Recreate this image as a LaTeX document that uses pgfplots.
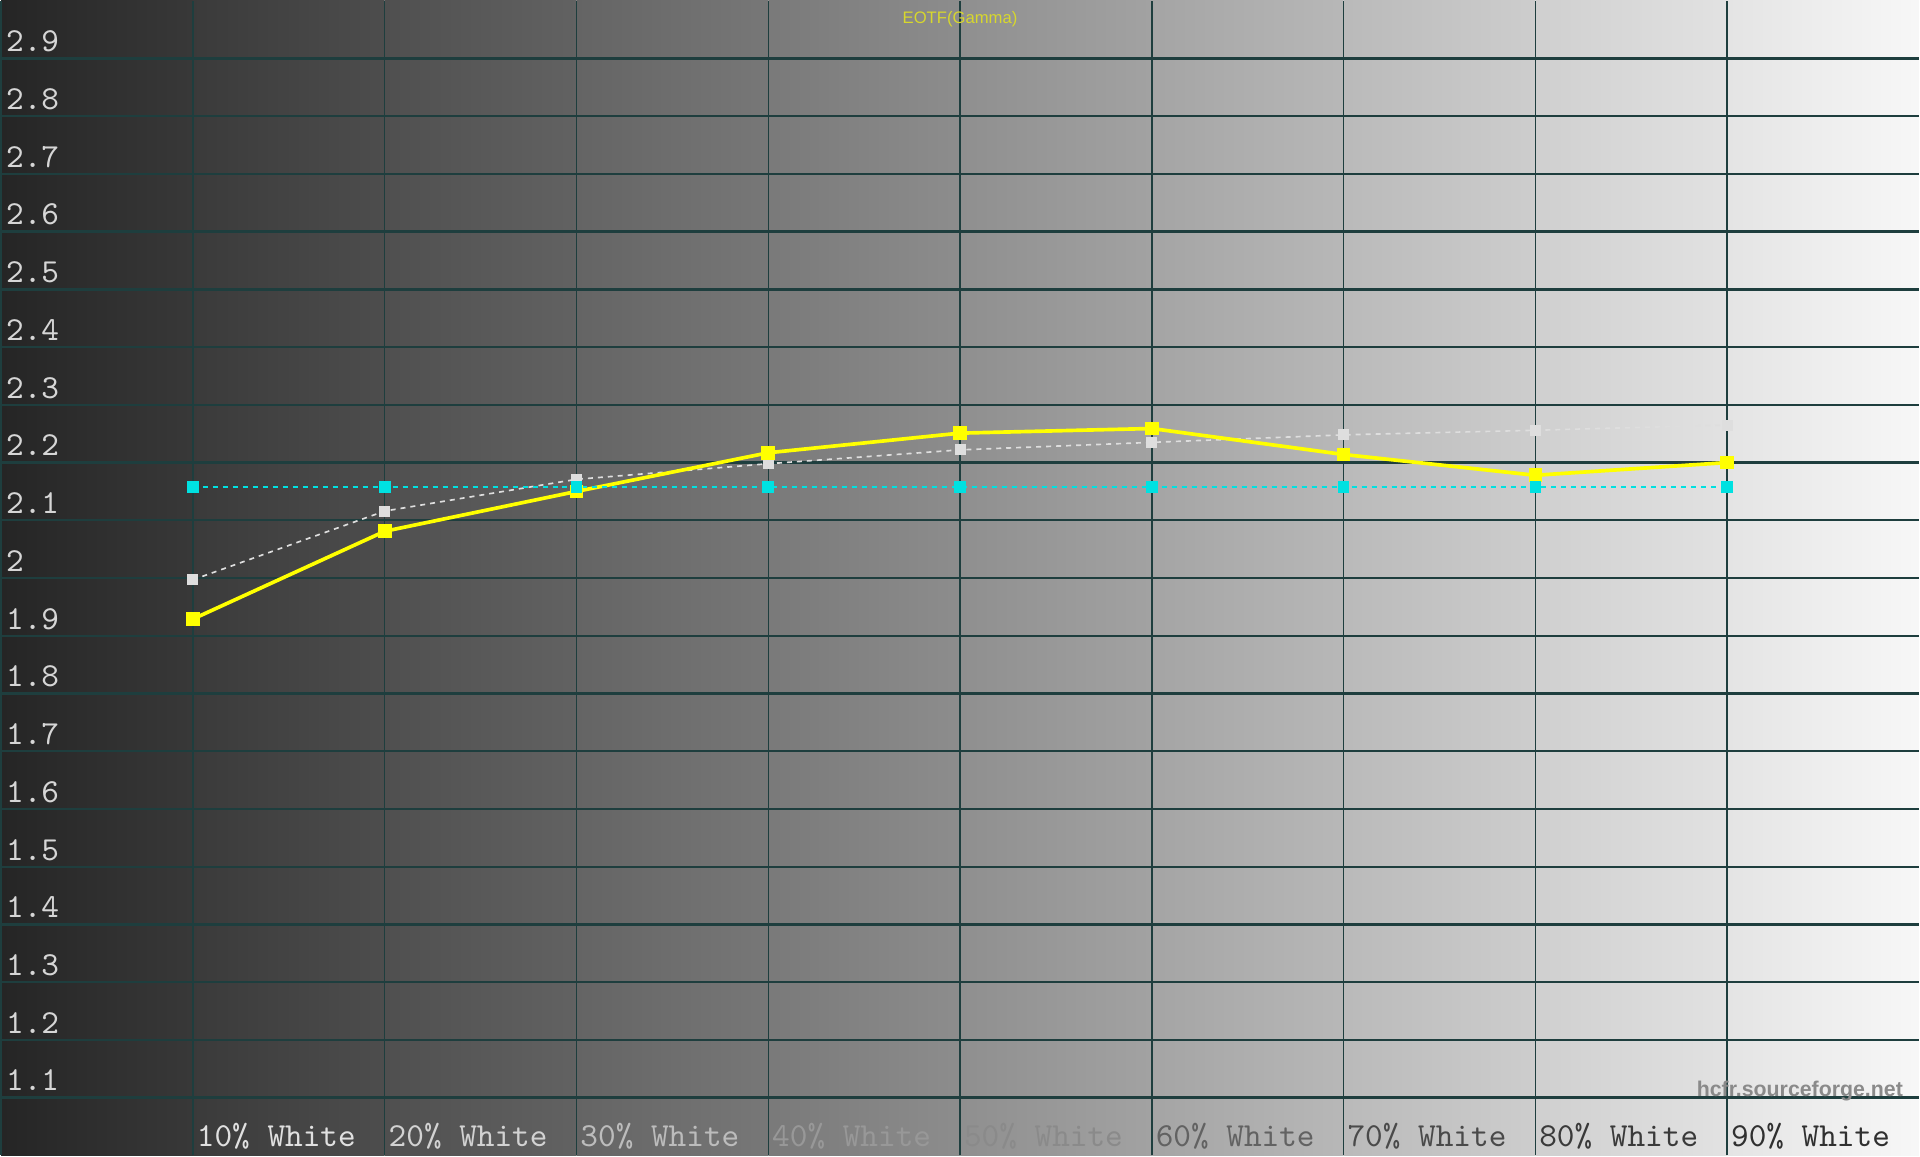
\documentclass[border=0pt]{standalone}
\usepackage{fontspec}
\setmainfont{Liberation Sans}
\usepackage{pgfplots}
\pgfplotsset{compat=1.18}

\definecolor{gridc}{RGB}{30,62,62}
\definecolor{meas}{RGB}{255,255,0}
\definecolor{refg}{RGB}{222,222,222}
\definecolor{targ}{RGB}{0,225,225}
\definecolor{titlec}{RGB}{215,215,45}

\begin{document}
\begin{tikzpicture}
  \begin{axis}[%
    ,set layers
    ,scale only axis
    ,width=576pt, height=346.8pt
    ,xmin=0, xmax=100
    ,ymin=1, ymax=3
    ,axis line style={draw=none}
    ,major tick length=0pt
    ,xtick={10,20,...,90}
    ,extra x ticks={0}, extra x tick labels={}
    ,xticklabels={%
      {\textcolor[RGB]{224,224,224}{10\% White}},
      {\textcolor[RGB]{210,210,210}{20\% White}},
      {\textcolor[RGB]{188,188,188}{30\% White}},
      {\textcolor[RGB]{152,152,152}{40\% White}},
      {\textcolor[RGB]{138,138,138}{50\% White}},
      {\textcolor[RGB]{98,98,98}{60\% White}},
      {\textcolor[RGB]{74,74,74}{70\% White}},
      {\textcolor[RGB]{58,58,58}{80\% White}},
      {\textcolor[RGB]{48,48,48}{90\% White}}}
    ,ytick={1.1,1.2,1.3,1.4,1.5,1.6,1.7,1.8,1.9,2,2.1,2.2,2.3,2.4,2.5,2.6,2.7,2.8,2.9}
    ,xmajorgrids, ymajorgrids
    ,x grid style={color=gridc, line width=0.45pt}
    ,y grid style={color=gridc, line width=0.7pt}
    ,/pgf/number format/assume math mode=true
    ,xticklabel style={font=\ttfamily\fontsize{10.1}{11}\selectfont, anchor=base west, inner sep=0pt, xshift=1pt, yshift=2.7pt}
    ,yticklabel style={font=\ttfamily\fontsize{10.1}{11}\selectfont, color={rgb,255:red,214;green,214;blue,214}, anchor=base west, inner sep=0pt, xshift=1.3pt, yshift=2pt}
    ]
    \begin{pgfonlayer}{axis background}
      \shade[left color=white!14.5!black, right color=white!22.0!black] (axis cs:0,1) rectangle (axis cs:10,3);
      \shade[left color=white!22.8!black, right color=white!30.2!black] (axis cs:10,1) rectangle (axis cs:20,3);
      \shade[left color=white!31.0!black, right color=white!38.4!black] (axis cs:20,1) rectangle (axis cs:30,3);
      \shade[left color=white!39.2!black, right color=white!46.8!black] (axis cs:30,1) rectangle (axis cs:40,3);
      \shade[left color=white!47.6!black, right color=white!55.2!black] (axis cs:40,1) rectangle (axis cs:50,3);
      \shade[left color=white!56.0!black, right color=white!63.6!black] (axis cs:50,1) rectangle (axis cs:60,3);
      \shade[left color=white!64.4!black, right color=white!72.0!black] (axis cs:60,1) rectangle (axis cs:70,3);
      \shade[left color=white!72.8!black, right color=white!80.4!black] (axis cs:70,1) rectangle (axis cs:80,3);
      \shade[left color=white!81.2!black, right color=white!88.6!black] (axis cs:80,1) rectangle (axis cs:90,3);
      \shade[left color=white!89.4!black, right color=white!97.0!black] (axis cs:90,1) rectangle (axis cs:100,3);
    \end{pgfonlayer}

    % reference curve (grey, dotted)
    \addplot[color=refg, line width=0.5pt, dash pattern=on 1.5pt off 1.5pt,
      mark=square*, mark size=1.4pt, mark options={solid, fill=refg, draw=none}]
      coordinates {(10,1.997) (20,2.116) (30,2.171) (40,2.198) (50,2.222)
                   (60,2.235) (70,2.248) (80,2.256) (90,2.265)};
    % measured gamma (yellow)
    \addplot[color=meas, line width=1.1pt,
      mark=square*, mark size=1.5pt, mark options={fill=meas, draw=none}]
      coordinates {(10,1.929) (20,2.081) (30,2.150) (40,2.217) (50,2.251)
                   (60,2.259) (70,2.214) (80,2.178) (90,2.200)};
    % target (cyan, dotted)
    \addplot[color=targ, line width=0.5pt, dash pattern=on 1.5pt off 1.5pt,
      mark=square*, mark size=1.5pt, mark options={solid, fill=targ, draw=none}]
      coordinates {(10,2.158) (20,2.158) (30,2.158) (40,2.158) (50,2.158)
                   (60,2.158) (70,2.158) (80,2.158) (90,2.158)};

    \node[anchor=base, inner sep=0pt, text=titlec, font=\fontsize{5}{6}\selectfont]
      at (axis cs:50,2.96) {EOTF(Gamma)};
    \node[anchor=base east, inner sep=0pt, text={rgb,255:red,138;green,138;blue,138}, font=\bfseries\fontsize{6.4}{7}\selectfont]
      at (axis cs:99.2,1.102) {hcfr.sourceforge.net};
  \end{axis}
\end{tikzpicture}
\end{document}
